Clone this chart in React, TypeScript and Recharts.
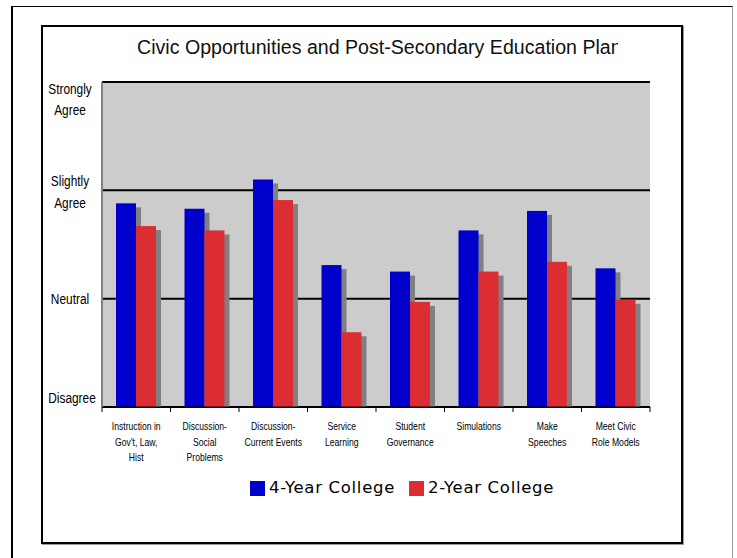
import React from "react";
import { BarChart, Bar, XAxis, YAxis, CartesianGrid, Legend } from "recharts";

const categories = [
  "Instruction in\nGov't, Law,\nHist",
  "Discussion-\nSocial\nProblems",
  "Discussion-\nCurrent Events",
  "Service\nLearning",
  "Student\nGovernance",
  "Simulations",
  "Make\nSpeeches",
  "Meet Civic\nRole Models",
];
const fourYear = [2.88, 2.83, 3.1, 2.31, 2.25, 2.63, 2.81, 2.28];
const twoYear = [2.67, 2.63, 2.91, 1.69, 1.97, 2.25, 2.34, 1.99];
const yTicks = [1, 2, 3, 4];
const yTickLabels = ["Disagree", "Neutral", "Slightly\nAgree", "Strongly\nAgree"];
const seriesNames = ["4-Year College", "2-Year College"];
const seriesColors = ["#0000cc", "#dc2d32"];
const title = "Civic Opportunities and Post-Secondary Education Plan";

const data = categories.map((c, i) => ({ cat: c, a: fourYear[i], b: twoYear[i] }));

const SANS = "'Liberation Sans', Arial, sans-serif";
const NARROW_SCALE = 0.82;

const ShadowBar = (props: any) => {
  const { x, y, width, height, fill } = props;
  if (!height || height <= 0) return null;
  return (
    <g>
      <rect x={x + 5} y={y + 4} width={width} height={Math.max(0, height - 4)} fill="#808080" />
      <rect x={x} y={y} width={width} height={height} fill={fill} />
    </g>
  );
};

const XTick = (props: any) => {
  const { x, y, payload, index } = props;
  const lines = String(payload.value).split("\n");
  const half = 68.5 / 2;
  return (
    <g>
      <line x1={x - half} x2={x - half} y1={y} y2={y + 5} stroke="#000" strokeWidth={1} />
      {index === categories.length - 1 && (
        <line x1={x + half} x2={x + half} y1={y} y2={y + 5} stroke="#000" strokeWidth={1} />
      )}
      <text
        transform={`translate(${x},0) scale(${NARROW_SCALE},1)`}
        textAnchor="middle"
        fontFamily={SANS}
        fontSize={10.5}
        fill="#000"
      >
        {lines.map((l, i) => (
          <tspan key={i} x={0} y={y + 23.5 + i * 15.5}>
            {l}
          </tspan>
        ))}
      </text>
    </g>
  );
};

const yOffsets: Record<number, number[]> = {
  1: [-4],
  2: [5],
  3: [-4, 18],
  4: [12, 33],
};

const YTick = (props: any) => {
  const { y, payload } = props;
  const idx = yTicks.indexOf(payload.value);
  const lines = yTickLabels[idx].split("\n");
  const offs = yOffsets[payload.value];
  const cx = payload.value === 1 ? 72 : 70;
  return (
    <text
      transform={`translate(${cx},0) scale(${NARROW_SCALE},1)`}
      textAnchor="middle"
      fontFamily={SANS}
      fontSize={14.5}
      fill="#000"
    >
      {lines.map((l, i) => (
        <tspan key={i} x={0} y={y + offs[i]}>
          {l}
        </tspan>
      ))}
    </text>
  );
};

const LegendContent = () => (
  <div
    style={{
      display: "flex",
      alignItems: "center",
      marginLeft: 250,
      fontFamily: "'DejaVu Sans', Verdana, sans-serif",
      fontSize: 16.5,
      letterSpacing: "0.7px",
      lineHeight: "18px",
      color: "#000",
    }}
  >
    {seriesNames.map((n, i) => (
      <div key={n} style={{ display: "flex", alignItems: "center", marginRight: 14 }}>
        <div style={{ width: 15, height: 15, background: seriesColors[i], marginRight: 4 }} />
        <span>{n}</span>
      </div>
    ))}
  </div>
);

export default function App() {
  return (
    <div style={{ position: "absolute", left: 0, top: 0, width: 737, height: 558, background: "#fff" }}>
      <div
        style={{
          position: "absolute",
          left: 11,
          top: 6,
          width: 722,
          height: 552,
          borderTop: "1.5px solid #000",
          borderLeft: "2px solid #000",
          borderRight: "1px solid #999",
          boxSizing: "border-box",
        }}
      />
      <div
        style={{
          position: "absolute",
          left: 41,
          top: 25,
          width: 642,
          height: 519,
          border: "2px solid #000",
          boxShadow: "1px 1px 0 #999",
          boxSizing: "border-box",
        }}
      />
      <svg style={{ position: "absolute", left: 0, top: 0 }} width={737} height={80}>
        <defs>
          <clipPath id="titleClip">
            <rect x={0} y={0} width={618} height={80} />
          </clipPath>
        </defs>
        <text x={137} y={54} clipPath="url(#titleClip)" fontFamily={SANS} fontSize={19.6} fill="#111">
          {title}
        </text>
      </svg>
      <div style={{ position: "absolute", left: 0, top: 0 }}>
        <BarChart
          width={737}
          height={558}
          data={data}
          margin={{ top: 82, right: 87, bottom: 91, left: 42 }}
          barGap={0}
          barSize={20}
        >
          <CartesianGrid
            yAxisId="l"
            vertical={false}
            fill="#cccccc"
            stroke="#000"
            strokeWidth={2}
            fillOpacity={1}
          />
          <XAxis
            dataKey="cat"
            interval={0}
            height={60}
            tickSize={0}
            tickMargin={0}
            tickLine={false}
            axisLine={{ stroke: "#000", strokeWidth: 1 }}
            tick={<XTick />}
          />
          <YAxis
            yAxisId="l"
            domain={[1, 4]}
            ticks={yTicks}
            width={60}
            tickLine={false}
            tickSize={0}
            axisLine={{ stroke: "#808080", strokeWidth: 2 }}
            tick={<YTick />}
            interval={0}
            allowDataOverflow
          />
          <YAxis
            yAxisId="r"
            orientation="right"
            domain={[1, 4]}
            ticks={yTicks}
            width={0}
            tick={false}
            tickLine={false}
            axisLine={{ stroke: "#808080", strokeWidth: 2 }}
          />
          <Legend
            layout="horizontal"
            verticalAlign="middle"
            align="center"
            content={<LegendContent />}
            wrapperStyle={{ position: "absolute", top: 479, left: 0, width: 737 }}
          />
          <Bar yAxisId="l" dataKey="a" name={seriesNames[0]} fill={seriesColors[0]} shape={<ShadowBar />} isAnimationActive={false} />
          <Bar yAxisId="l" dataKey="b" name={seriesNames[1]} fill={seriesColors[1]} shape={<ShadowBar />} isAnimationActive={false} />
        </BarChart>
      </div>
    </div>
  );
}
